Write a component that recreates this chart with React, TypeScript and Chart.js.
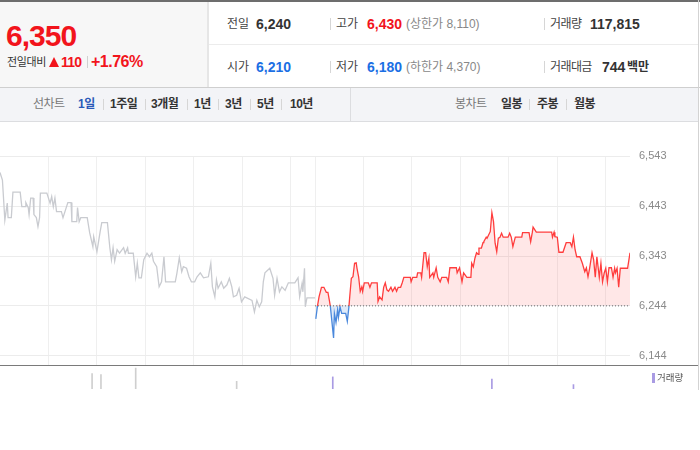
import React, { useEffect, useRef } from "react";
import { Chart, registerables } from "chart.js";

Chart.register(...registerables);

// ---------- data ----------
// previous session (minutes from 09:00, price)
const prevMinutes = [0,3,6,9,10,14,16,25,27,31,32,35,36,38,41,42,45,47,49,50,58,60,62,64,66,68,70,76,78,84,88,89,95,96,98,100,108,111,115,116,120,124,126,133,136,138,140,142,145,148,153,155,158,159,165,168,170,172,175,178,182,185,188,190,194,197,200,203,205,217,219,222,225,227,231,234,237,241,244,248,252,258,261,263,266,268,270,274,277,281,284,287,289,293,296,299,303,312,315,318,321,324,326,328,334,338,340,343,346,349,353,357,365,369,371,374,375,377,378,380,390];
const prevPrices = [6510,6495,6415,6449,6420,6420,6471,6471,6442,6442,6450,6440,6426,6459,6459,6426,6420,6402,6420,6469,6469,6459,6449,6462,6442,6459,6432,6432,6420,6450,6450,6412,6412,6440,6412,6420,6420,6390,6362,6382,6352,6392,6410,6410,6360,6336,6360,6333,6356,6349,6360,6349,6360,6349,6349,6302,6329,6300,6300,6336,6349,6342,6349,6333,6322,6282,6292,6342,6292,6292,6309,6340,6312,6322,6319,6302,6292,6292,6302,6310,6300,6302,6329,6282,6262,6296,6279,6292,6279,6286,6299,6282,6262,6265,6279,6252,6262,6255,6232,6255,6242,6252,6292,6310,6319,6299,6265,6299,6272,6282,6275,6290,6290,6300,6262,6289,6272,6319,6242,6260,6260];

// today's session (minutes from 09:00, price)
const todayMinutes = [1,3,5,8,11,14,16,18,19,23,24,26,28,29,31,33,38,40,42,43,45,47,49,51,52,54,56,58,59,61,66,68,70,77,78,80,83,85,87,89,91,94,96,99,101,103,106,108,110,118,119,121,126,127,131,132,135,137,139,141,142,146,147,150,152,155,157,163,165,167,175,176,179,182,184,188,193,194,196,198,200,202,203,206,208,209,212,213,216,217,219,221,223,225,227,229,231,233,239,241,243,245,248,256,257,265,267,269,270,274,293,294,296,297,300,302,307,311,316,318,320,322,324,328,331,334,336,338,340,343,345,347,349,352,354,356,358,360,362,364,367,369,371,372,374,376,378,387,390];
const todayPrices = [6218,6243,6262,6281,6281,6271,6271,6253,6243,6180,6229,6211,6236,6221,6242,6229,6229,6213,6242,6262,6299,6302,6329,6330,6319,6302,6273,6282,6273,6290,6290,6281,6290,6290,6253,6262,6256,6281,6290,6276,6273,6281,6273,6281,6273,6281,6281,6290,6301,6301,6292,6301,6301,6310,6310,6301,6350,6350,6322,6339,6301,6310,6301,6320,6301,6292,6301,6301,6292,6320,6320,6310,6320,6292,6310,6301,6301,6329,6322,6339,6350,6347,6359,6359,6370,6372,6381,6379,6389,6392,6430,6412,6369,6352,6379,6381,6389,6381,6381,6389,6381,6362,6381,6381,6390,6390,6372,6390,6401,6391,6391,6381,6391,6382,6381,6351,6351,6370,6370,6362,6381,6356,6342,6342,6329,6312,6320,6302,6319,6350,6336,6301,6342,6301,6329,6292,6309,6319,6292,6320,6320,6301,6319,6310,6319,6281,6319,6319,6350];

const sessionLength = 390; // minutes per session
const baseLine = 6244; // reference (previous close) line
const yTicks = [6144, 6244, 6343, 6443, 6543];
const gridMinutes = [60, 120, 180, 240, 300, 360, 390, 450, 510, 570, 630, 690, 750];

// volume bars (axis minutes across both sessions, relative height)
const volMinutes = [114, 125, 168, 293, 412, 609, 710];
const volValues = [14, 13, 19, 7, 11, 9, 4];

// ---------- styles ----------
const NUM = "'Liberation Sans', Arial, 'Noto Sans CJK KR', sans-serif";
const RED = "#f2141c";
const BLUE = "#1b6fe4";
const LINE_RED = "#ff3d3d";
const LINE_BLUE = "#4a88dc";

type TP = { x: number; y: number; s: number; w?: number; c?: string; ls?: number; children: React.ReactNode };
const T = ({ x, y, s, w = 400, c = "#333", ls = 0, children }: TP) => (
  <div
    style={{
      position: "absolute",
      left: x,
      top: y - s / 2,
      fontSize: s,
      lineHeight: `${s}px`,
      fontWeight: w,
      color: c,
      fontFamily: NUM,
      letterSpacing: ls,
      whiteSpace: "nowrap",
    }}
  >
    {children}
  </div>
);

const VSep = ({ x, y, h = 12, c = "#d6d6d6" }: { x: number; y: number; h?: number; c?: string }) => (
  <div style={{ position: "absolute", left: x, top: y - h / 2, width: 1, height: h, background: c }} />
);

export default function App() {
  const mainRef = useRef<HTMLCanvasElement>(null);
  const volRef = useRef<HTMLCanvasElement>(null);

  useEffect(() => {
    const prevData = prevMinutes.map((m, i) => ({ x: m, y: prevPrices[i] }));
    const todayData = todayMinutes.map((m, i) => ({ x: m + sessionLength, y: todayPrices[i] }));
    const baseData = [
      { x: sessionLength, y: baseLine },
      { x: sessionLength * 2, y: baseLine },
    ];

    const main = new Chart(mainRef.current!, {
      type: "line",
      data: {
        datasets: [
          {
            data: baseData,
            borderColor: "#6a6a6a",
            borderWidth: 1,
            borderDash: [1, 2],
            pointRadius: 0,
            fill: false,
          },
          {
            data: todayData,
            borderWidth: 1.3,
            pointRadius: 0,
            tension: 0,
            borderColor: (ctx: any) => {
              const chart = ctx.chart;
              const area = chart.chartArea;
              if (!area) return LINE_RED;
              const y0 = chart.scales.y.getPixelForValue(baseLine);
              const g = chart.ctx.createLinearGradient(0, area.top, 0, area.bottom);
              const f = Math.min(1, Math.max(0, (y0 - area.top) / (area.bottom - area.top)));
              g.addColorStop(0, LINE_RED);
              g.addColorStop(f, LINE_RED);
              g.addColorStop(f, LINE_BLUE);
              g.addColorStop(1, LINE_BLUE);
              return g;
            },
            fill: {
              target: { value: baseLine },
              above: "rgba(255,70,70,0.13)",
              below: "rgba(74,136,220,0.18)",
            },
          } as any,
          {
            data: prevData,
            borderColor: "#c9cbd0",
            borderWidth: 1.3,
            pointRadius: 0,
            tension: 0,
            fill: false,
          },
        ],
      },
      options: {
        animation: false,
        responsive: false,
        devicePixelRatio: 1,
        layout: { padding: { top: 34, bottom: 26, left: 0, right: 0 } },
        plugins: { legend: { display: false }, tooltip: { enabled: false } },
        scales: {
          x: {
            type: "linear",
            min: 0,
            max: sessionLength * 2,
            afterBuildTicks: (s: any) => {
              s.ticks = gridMinutes.map((v) => ({ value: v }));
            },
            ticks: { display: false },
            grid: { color: "#efefef", drawTicks: false },
            border: { display: false },
          },
          y: {
            position: "right",
            min: 6124,
            max: 6543,
            afterBuildTicks: (s: any) => {
              s.ticks = yTicks.map((v) => ({ value: v }));
            },
            afterFit: (s: any) => {
              s.width = 70;
            },
            ticks: {
              padding: 9,
              color: "#8a8a8a",
              font: { family: NUM, size: 11 },
              callback: (v: any) => Number(v).toLocaleString("en-US"),
            },
            grid: { color: "#ececec", drawTicks: false },
            border: { display: false },
          },
        },
      },
    });

    const vol = new Chart(volRef.current!, {
      type: "bar",
      data: {
        datasets: [
          {
            data: volMinutes.map((m, i) => ({ x: m, y: volValues[i] })),
            barThickness: 1,
            backgroundColor: (ctx: any) =>
              volMinutes[ctx.dataIndex] < sessionLength ? "#cfcfcf" : "#a99be3",
          } as any,
        ],
      },
      options: {
        animation: false,
        responsive: false,
        devicePixelRatio: 1,
        layout: { padding: { top: 0, bottom: 0, left: 0, right: 70 } },
        plugins: { legend: { display: false }, tooltip: { enabled: false } },
        scales: {
          x: { type: "linear", min: 0, max: sessionLength * 2, offset: false, display: false },
          y: { min: 0, max: 20, display: false },
        },
      },
    });

    return () => {
      main.destroy();
      vol.destroy();
    };
  }, []);

  return (
    <div style={{ position: "fixed", left: 0, top: 0, width: 700, height: 450, background: "#fff", overflow: "hidden" }}>
      {/* header */}
      <div style={{ position: "absolute", left: 0, top: 0, width: 700, height: 2, background: "#6d6d6d" }} />
      <div style={{ position: "absolute", left: 0, top: 2, width: 207, height: 85, background: "#f7f7f7" }} />
      <div style={{ position: "absolute", left: 207, top: 2, width: 2, height: 85, background: "#e6e6e6" }} />
      <div style={{ position: "absolute", left: 209, top: 44, width: 489, height: 1, background: "#ececec" }} />
      <div style={{ position: "absolute", left: 0, top: 87, width: 700, height: 1, background: "#cfcfcf" }} />

      <T x={6} y={36} s={30} w={700} c={RED} ls={-1}>6,350</T>
      <T x={7} y={62} s={11} c="#333" ls={-0.4}>전일대비</T>
      <div
        style={{
          position: "absolute",
          left: 49,
          top: 57,
          width: 0,
          height: 0,
          borderLeft: "5.5px solid transparent",
          borderRight: "5.5px solid transparent",
          borderBottom: `10px solid ${RED}`,
        }}
      />
      <T x={61} y={62} s={14} w={700} c={RED} ls={-0.8}>110</T>
      <VSep x={87} y={62} h={12} c="#d0d0d0" />
      <T x={91} y={62} s={16} w={700} c={RED} ls={-0.5}>+1.76%</T>

      <T x={227} y={24} s={12} c="#444">전일</T>
      <T x={256} y={24} s={14} w={700} c="#333">6,240</T>
      <VSep x={330} y={24} />
      <T x={336} y={24} s={12} c="#444">고가</T>
      <T x={367} y={24} s={14} w={700} c={RED}>6,430</T>
      <T x={406} y={24} s={12} c="#888">(상한가 8,110)</T>
      <VSep x={544} y={24} />
      <T x={550} y={24} s={12} c="#444" ls={-0.6}>거래량</T>
      <T x={590} y={24} s={14} w={700} c="#333">117,815</T>

      <T x={227} y={67} s={12} c="#444">시가</T>
      <T x={256} y={67} s={14} w={700} c={BLUE}>6,210</T>
      <VSep x={330} y={67} />
      <T x={336} y={67} s={12} c="#444">저가</T>
      <T x={367} y={67} s={14} w={700} c={BLUE}>6,180</T>
      <T x={406} y={67} s={12} c="#888">(하한가 4,370)</T>
      <VSep x={544} y={67} />
      <T x={550} y={67} s={12} c="#444" ls={-0.6}>거래대금</T>
      <T x={602} y={67} s={14} w={700} c="#333">744</T>
      <T x={627} y={67} s={12} w={700} c="#333">백만</T>

      {/* tab bar */}
      <div style={{ position: "absolute", left: 0, top: 88, width: 698, height: 33, background: "#f3f4f7" }} />
      <div style={{ position: "absolute", left: 0, top: 121, width: 698, height: 1, background: "#dcdde0" }} />
      <div style={{ position: "absolute", left: 350, top: 88, width: 1, height: 33, background: "#dcdde0" }} />
      <T x={33} y={104} s={12} c="#777" ls={-0.5}>선차트</T>
      <T x={78} y={104} s={12} w={700} c="#2a59b8" ls={-0.5}>1일</T>
      <VSep x={103} y={104} h={11} />
      <T x={110} y={104} s={12} w={700} c="#333" ls={-0.5}>1주일</T>
      <VSep x={145} y={104} h={11} />
      <T x={151} y={104} s={12} w={700} c="#333" ls={-0.5}>3개월</T>
      <VSep x={187} y={104} h={11} />
      <T x={194} y={104} s={12} w={700} c="#333" ls={-0.5}>1년</T>
      <VSep x={218} y={104} h={11} />
      <T x={225} y={104} s={12} w={700} c="#333" ls={-0.5}>3년</T>
      <VSep x={250} y={104} h={11} />
      <T x={257} y={104} s={12} w={700} c="#333" ls={-0.5}>5년</T>
      <VSep x={281} y={104} h={11} />
      <T x={290} y={104} s={12} w={700} c="#333" ls={-0.5}>10년</T>

      <T x={455} y={104} s={12} c="#777" ls={-0.5}>봉차트</T>
      <T x={501} y={104} s={12} w={700} c="#333" ls={-0.5}>일봉</T>
      <VSep x={529} y={104} h={11} />
      <T x={537} y={104} s={12} w={700} c="#333" ls={-0.5}>주봉</T>
      <VSep x={566} y={104} h={11} />
      <T x={574} y={104} s={12} w={700} c="#333" ls={-0.5}>월봉</T>

      {/* charts */}
      <canvas ref={mainRef} width={700} height={270} style={{ position: "absolute", left: 0, top: 122, width: 700, height: 270 }} />
      <div style={{ position: "absolute", left: 0, top: 365, width: 698, height: 1, background: "#7a7a7a" }} />
      <canvas ref={volRef} width={700} height={22} style={{ position: "absolute", left: 0, top: 367, width: 700, height: 22 }} />
      <div style={{ position: "absolute", left: 652, top: 373, width: 3, height: 10, background: "#a99be3" }} />
      <T x={657} y={378} s={9.5} c="#555">거래량</T>

      {/* right border */}
      <div style={{ position: "absolute", left: 698, top: 0, width: 1, height: 390, background: "#d3d3d3" }} />
    </div>
  );
}
